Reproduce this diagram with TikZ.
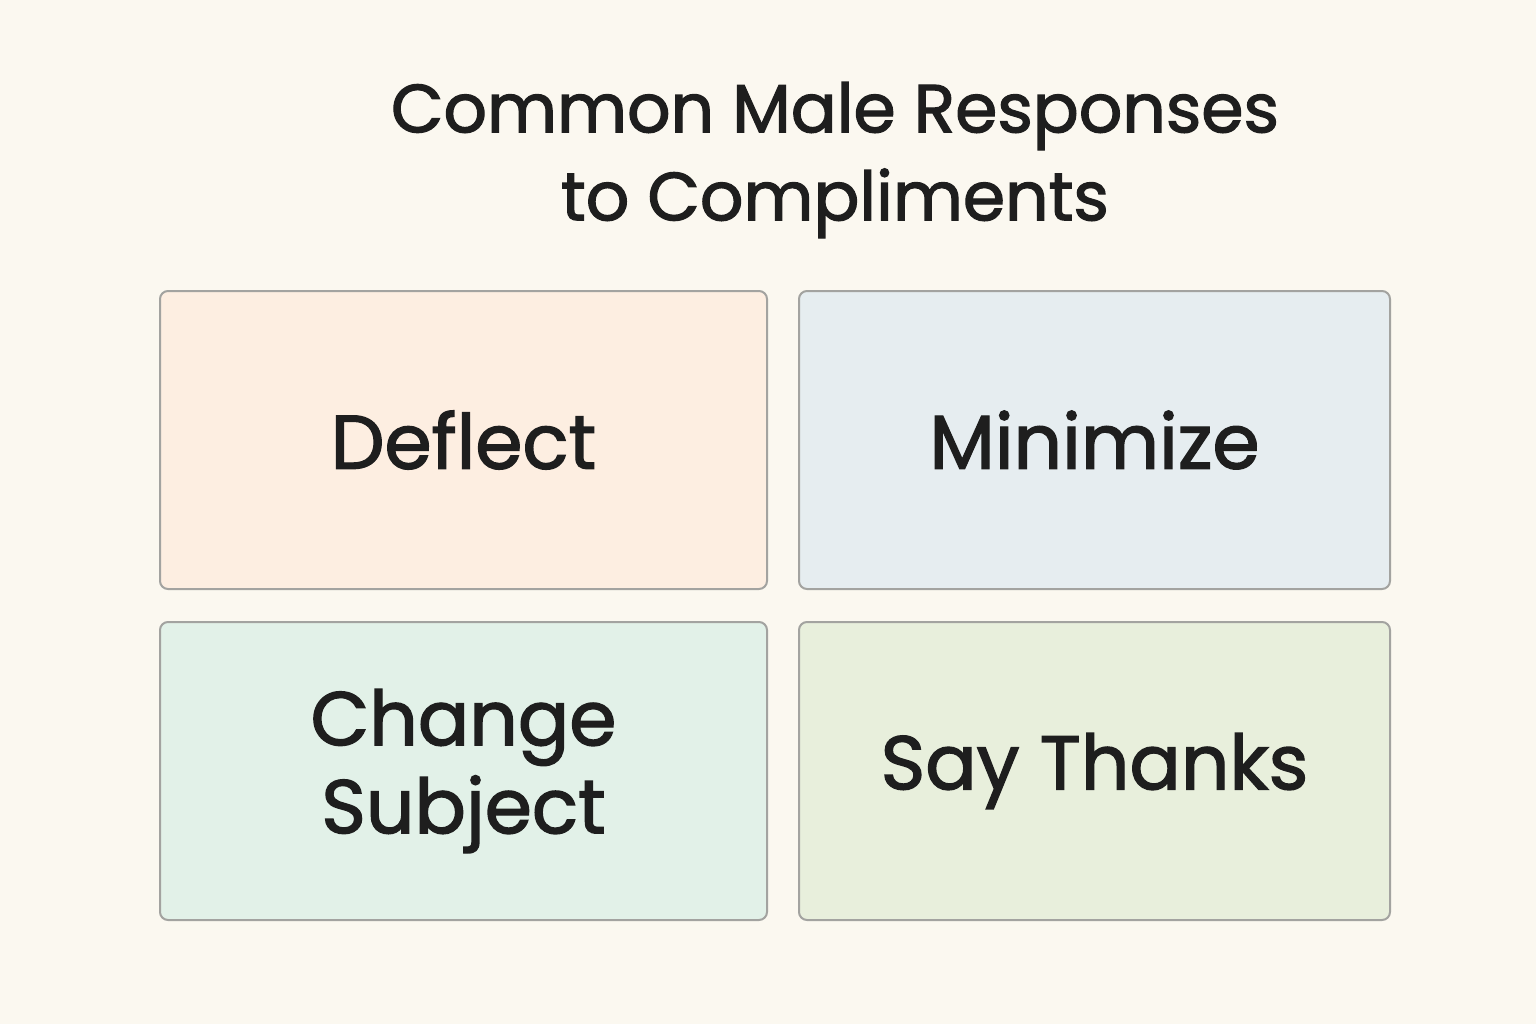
\documentclass[tikz,border=0pt]{standalone}
\usepackage{fontspec}
\setmainfont{Poppins}
\newfontfamily\medfont{Poppins}[FakeBold=1.8]
\definecolor{bg}{HTML}{FBF8F0}
\definecolor{cA}{HTML}{FDEEE1}
\definecolor{cB}{HTML}{E6EDF0}
\definecolor{cC}{HTML}{E2F1E8}
\definecolor{cD}{HTML}{E8EFDC}
\definecolor{bd}{HTML}{A3A3A0}
\definecolor{tx}{HTML}{1E1E1E}
\begin{document}
\begin{tikzpicture}[x=1pt,y=-1pt,
  card/.style={draw=bd,line width=2pt,rounded corners=8pt,text=tx,align=center,
    font=\fontsize{76}{88}\selectfont\medfont, inner sep=0pt}]
\fill[bg] (0,0) rectangle (1536,1024);
\useasboundingbox (0,0) rectangle (1536,1024);
\node[text=tx,align=center,font=\fontsize{68}{88}\selectfont\medfont] (title) at (835,160) {Common Male Responses\\to Compliments};
\node[card,fill=cA,minimum width=607pt,minimum height=298pt] (a) at (463.5,440) {Deflect};
\node[card,fill=cB,minimum width=591pt,minimum height=298pt] (b) at (1094.5,440) {Minimize};
\node[card,fill=cC,minimum width=607pt,minimum height=298pt] (c) at (463.5,771) {Change\\Subject};
\node[card,fill=cD,minimum width=591pt,minimum height=298pt] (d) at (1094.5,771) {Say Thanks};
\end{tikzpicture}
\end{document}
